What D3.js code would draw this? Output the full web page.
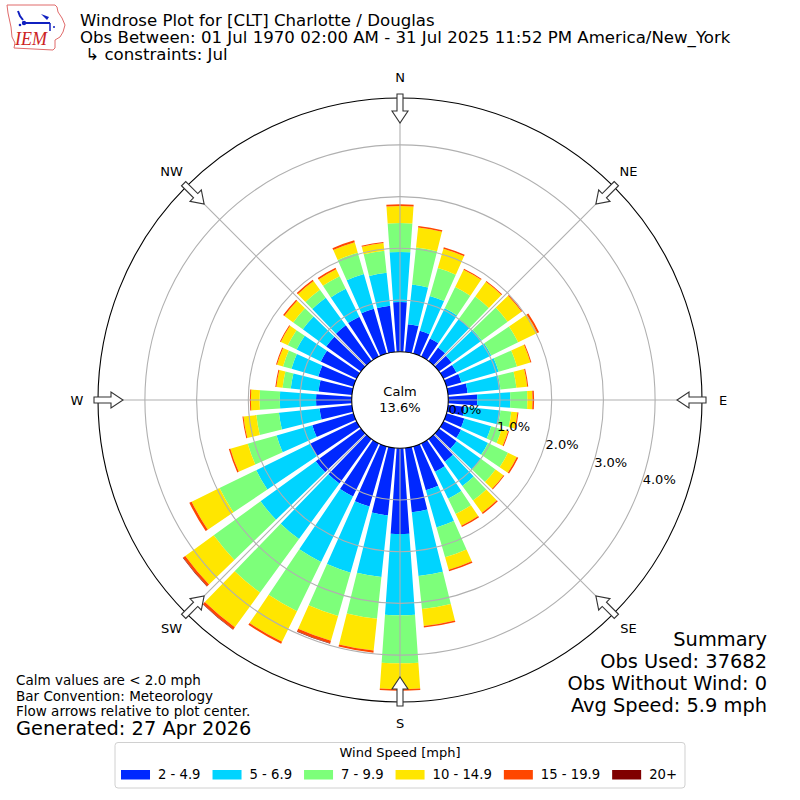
<!DOCTYPE html>
<html><head><meta charset="utf-8">
<script src="https://cdn.jsdelivr.net/npm/d3@7"></script>
<style>
body{margin:0;background:#fff}
svg{display:block}
text{font-family:"DejaVu Sans",sans-serif;fill:#000}
</style>
</head><body>
<svg id="chart" width="800" height="800"></svg>
<script>
// ---------------- data ----------------
const directions = [0,10,20,30,40,50,60,70,80,90,100,110,120,130,140,150,160,170,180,190,200,210,220,230,240,250,260,270,280,290,300,310,320,330,340,350];
const speedBins = ["2 - 4.9","5 - 6.9","7 - 9.9","10 - 14.9","15 - 19.9","20+"];
const binColors = ["#0028ff","#00d4ff","#7dff7a","#ffe600","#ff4700","#800000"];
const s2_5   = [0.96,0.54,0.46,0.39,0.32,0.30,0.28,0.30,0.38,0.56,0.32,0.36,0.38,0.42,0.54,0.61,0.88,1.25,1.66,1.31,1.21,1.14,1.06,1.08,1.00,0.83,0.63,0.69,0.65,0.71,0.77,0.83,0.85,0.86,0.90,0.90];
const s5_7   = [0.97,0.77,0.70,0.65,0.68,0.72,0.75,0.75,0.64,0.64,0.70,0.54,0.58,0.58,0.58,0.58,0.75,1.24,1.57,1.20,1.33,1.41,1.33,1.32,1.16,0.72,0.79,0.70,0.54,0.54,0.52,0.56,0.66,0.60,0.70,0.64];
const s7_10  = [0.56,0.72,0.56,0.46,0.54,0.62,0.58,0.37,0.31,0.33,0.21,0.21,0.43,0.35,0.35,0.33,0.60,0.64,0.93,0.81,0.87,1.06,1.28,1.12,0.79,0.58,0.44,0.39,0.16,0.17,0.19,0.23,0.19,0.27,0.43,0.43];
const s10_15 = [0.33,0.39,0.39,0.37,0.35,0.33,0.41,0.27,0.21,0.10,0.12,0.13,0.19,0.19,0.29,0.25,0.25,0.33,0.50,0.62,0.50,0.66,0.83,0.68,0.60,0.35,0.25,0.17,0.12,0.12,0.15,0.21,0.21,0.15,0.21,0.15];
const s15_20 = [0.03,0.03,0.03,0.02,0.02,0.02,0.04,0.02,0.02,0.03,0.02,0.02,0.03,0.02,0.03,0.03,0.03,0.03,0.03,0.04,0.05,0.04,0.05,0.05,0.05,0.03,0.02,0.02,0.02,0.02,0.02,0.03,0.03,0.03,0.04,0.02];
const s20p   = [0,0,0,0,0,0,0,0,0,0,0,0,0,0,0,0,0,0,0,0,0.01,0,0.01,0.01,0,0,0,0,0,0,0,0,0,0,0,0];
const calmPct = 13.6;
const ringTicks = [0,1,2,3,4];
const compassLabels = ["N","NE","E","SE","S","SW","W","NW"];
const compassDegs = [0,45,90,135,180,225,270,315];
const titleLines = ["Windrose Plot for [CLT] Charlotte / Douglas",
  "Obs Between: 01 Jul 1970 02:00 AM - 31 Jul 2025 11:52 PM America/New_York",
  " \u21b3 constraints: Jul"];
const noteLines = ["Calm values are < 2.0 mph","Bar Convention: Meteorology","Flow arrows relative to plot center."];
const generatedText = "Generated: 27 Apr 2026";
const summaryLines = ["Summary","Obs Used: 37682","Obs Without Wind: 0","Avg Speed: 5.9 mph"];
const legendTitle = "Wind Speed [mph]";

// ---------------- setup ----------------
const svg = d3.select("#chart");
const cx = 400, cy = 400;
const calmR = 48.3, outerR = 302, pxPerPct = 51.7;
const rMax = (outerR - calmR) / pxPerPct;
const r = d3.scaleLinear().domain([0, rMax]).range([calmR, outerR]);
const ang = d3.scaleLinear().domain([0, 360]).range([0, 2 * Math.PI]);
const halfWidth = 4;
const series = [s2_5, s5_7, s7_10, s10_15, s15_20, s20p];
const keys = speedBins;
const rows = directions.map((d, i) => {
  const o = {dir: d};
  keys.forEach((k, j) => o[k] = series[j][i]);
  return o;
});
const stacked = d3.stack().keys(keys)(rows);
const arc = d3.arc();

const g = svg.append("g").attr("transform", `translate(${cx},${cy})`);

// bars
g.append("g").selectAll("g").data(stacked).join("g")
  .attr("fill", (d, i) => binColors[i])
  .selectAll("path").data(d => d).join("path")
  .attr("d", d => arc({innerRadius: r(d[0]), outerRadius: r(d[1]),
      startAngle: ang(d.data.dir - halfWidth), endAngle: ang(d.data.dir + halfWidth)}));

// grid rings
g.append("g").selectAll("circle").data(ringTicks.filter(t => t > 0)).join("circle")
  .attr("r", d => r(d)).attr("fill", "none").attr("stroke", "#b0b0b0").attr("stroke-width", 1.1);
// spokes
g.append("g").selectAll("line").data(compassDegs).join("line")
  .attr("x1", d => r(0) * Math.sin(ang(d))).attr("y1", d => -r(0) * Math.cos(ang(d)))
  .attr("x2", d => outerR * Math.sin(ang(d))).attr("y2", d => -outerR * Math.cos(ang(d)))
  .attr("stroke", "#b0b0b0").attr("stroke-width", 1.1);
// outer circle
g.append("circle").attr("r", outerR).attr("fill", "none").attr("stroke", "#000").attr("stroke-width", 1.1);
// calm circle
g.append("circle").attr("r", r(0)).attr("fill", "#fff").attr("stroke", "#000").attr("stroke-width", 1.1);
g.append("text").attr("x", 0).attr("y", -4).attr("text-anchor", "middle").style("font-size", "13px").text("Calm");
g.append("text").attr("x", 0).attr("y", 12).attr("text-anchor", "middle").style("font-size", "13px")
  .text(d3.format(".1f")(calmPct) + "%");

// ring labels
const labAng = 110;
g.append("g").selectAll("text").data(ringTicks).join("text")
  .attr("x", d => r(d) * Math.sin(ang(labAng)) + 3)
  .attr("y", d => -r(d) * Math.cos(ang(labAng)) - 3)
  .style("font-size", "13px")
  .text(d => d3.format(".1f")(d) + "%");

// arrows
const arrowPts = [[-3,-306],[-3,-289],[-8,-289],[0,-277],[8,-289],[3,-289],[3,-306]];
g.append("g").selectAll("path").data(compassDegs).join("path")
  .attr("transform", d => `rotate(${d})`)
  .attr("d", d3.line()(arrowPts) + "Z")
  .attr("fill", "#fff").attr("stroke", "#333").attr("stroke-width", 1.1);

// compass labels
g.append("g").selectAll("text").data(compassDegs).join("text")
  .attr("x", d => 323 * Math.sin(ang(d)))
  .attr("y", d => -323 * Math.cos(ang(d)))
  .attr("text-anchor", "middle").attr("dominant-baseline", "central")
  .style("font-size", "13px")
  .text((d, i) => compassLabels[i]);

// ---------------- titles ----------------
svg.append("g").selectAll("text").data(titleLines).join("text")
  .attr("x", 80).attr("y", (d, i) => [26, 43, 60][i])
  .style("font-size", "16.6px").style("white-space", "pre")
  .attr("xml:space", "preserve")
  .text(d => d);

// notes
svg.append("g").selectAll("text").data(noteLines).join("text")
  .attr("x", 16).attr("y", (d, i) => 685 + i * 15.7)
  .style("font-size", "13.5px").text(d => d);
svg.append("text").attr("x", 16).attr("y", 735).style("font-size", "19.4px").text(generatedText);

// summary
svg.append("g").selectAll("text").data(summaryLines).join("text")
  .attr("x", 767).attr("y", (d, i) => 646 + i * 22)
  .attr("text-anchor", "end").style("font-size", "19.4px").text(d => d);

// ---------------- legend ----------------
const leg = svg.append("g");
const box = leg.append("rect").attr("y", 742.5).attr("height", 45.5).attr("rx", 3)
  .attr("fill", "#fff").attr("stroke", "#d0d0d0").attr("stroke-width", 1);
leg.append("text").attr("x", 400).attr("y", 757).attr("text-anchor", "middle")
  .style("font-size", "13px").text(legendTitle);
const items = leg.append("g");
let xc = 0;
speedBins.forEach((lab, i) => {
  items.append("rect").attr("x", xc).attr("y", 770).attr("width", 29).attr("height", 9.5).attr("fill", binColors[i]);
  const t = items.append("text").attr("x", xc + 37).attr("y", 778.5).style("font-size", "13.2px").text(lab);
  const w = t.node().getComputedTextLength();
  xc = xc + 37 + w + (i < speedBins.length - 1 ? 12 : 0);
});
const totalW = xc;
const startX = 400 - (totalW + 14) / 2 + 6;
items.attr("transform", `translate(${startX},0)`);
box.attr("x", startX - 6).attr("width", totalW + 14);

// ---------------- logo ----------------
const logo = svg.append("g");
logo.append("path")
  .attr("d", d3.line()([[7,5],[55,5],[57,7],[58,12],[62,18],[65,25],[63,32],[60,37],[55,40],[55,48],[53,50],[14,48],[15,43],[12,37],[11,27],[8,13]]) + "Z")
  .attr("fill", "#fff").attr("stroke", "#e06a6a").attr("stroke-width", 1);
logo.append("line").attr("x1", 24).attr("y1", 23).attr("x2", 50).attr("y2", 23).attr("stroke", "#1020c0").attr("stroke-width", 2);
logo.append("circle").attr("cx", 24).attr("cy", 23).attr("r", 2.2).attr("fill", "#1020c0");
logo.append("path").attr("d", "M18,11 L20,16 L23,20").attr("fill", "none").attr("stroke", "#1020c0").attr("stroke-width", 2);
logo.append("path").attr("d", "M41,14 L49,17 L47,20 Z").attr("fill", "#1020c0");
logo.append("line").attr("x1", 50).attr("y1", 23).attr("x2", 50).attr("y2", 31).attr("stroke", "#1020c0").attr("stroke-width", 1.5);
logo.append("circle").attr("cx", 20).attr("cy", 25).attr("r", 1.3).attr("fill", "#1020c0");
logo.append("circle").attr("cx", 54).attr("cy", 27).attr("r", 1).attr("fill", "#1020c0");
logo.append("text").attr("x", 15).attr("y", 45)
  .style("font-family", "'Liberation Serif',serif").style("font-style", "italic")
  .style("font-size", "18px").style("fill", "#cc2222").text("IEM");
</script>
</body></html>
